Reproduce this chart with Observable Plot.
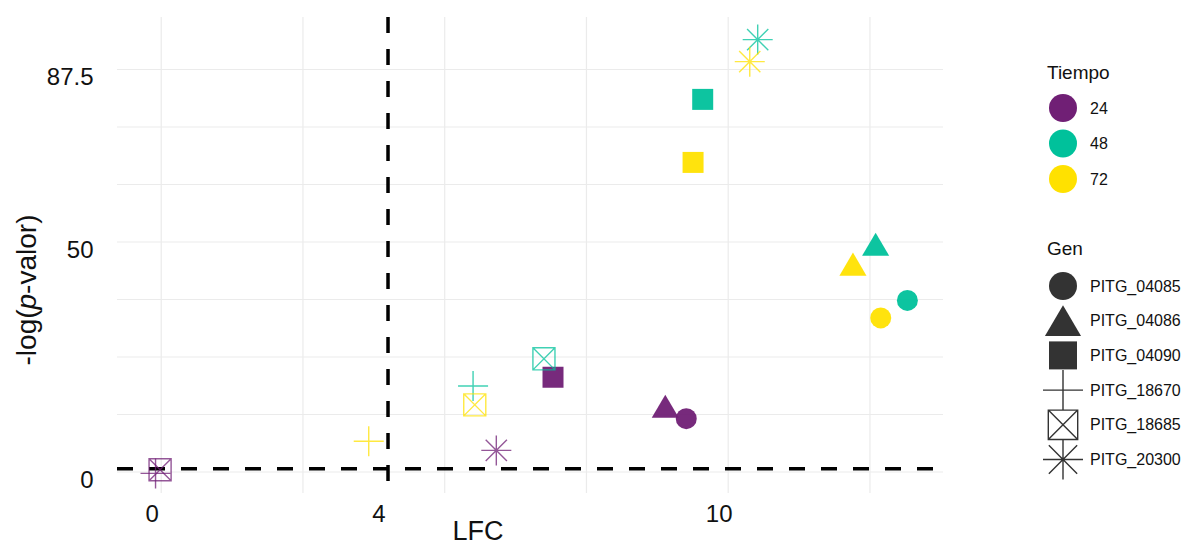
<!DOCTYPE html>
<html><head><meta charset="utf-8">
<script src="https://cdn.jsdelivr.net/npm/d3@7"></script>
<script src="https://cdn.jsdelivr.net/npm/@observablehq/plot@0.6"></script>
<style>
body{margin:0;background:#fff;font-family:"Liberation Sans",Arial,sans-serif;}
#wrap{position:relative;width:1186px;height:548px;overflow:hidden;}
#legend{position:absolute;left:1030px;top:0;}
</style></head><body>
<div id="wrap"><div id="chart"></div><div id="legend"></div></div>
<script>
// ---- data ----
const genes = ["PITG_04085","PITG_04086","PITG_04090","PITG_18670","PITG_18685","PITG_20300"];
const tiempos = ["24","48","72"];
const gen = ["PITG_04085","PITG_04085","PITG_04085","PITG_04086","PITG_04086","PITG_04086",
             "PITG_04090","PITG_04090","PITG_04090","PITG_18670","PITG_18670","PITG_18670",
             "PITG_18685","PITG_18685","PITG_18685","PITG_20300","PITG_20300","PITG_20300"];
const tiempo = ["24","48","72","24","48","72","24","48","72","24","48","72","24","48","72","24","48","72"];
const lfc  = [9.26,13.16,12.69, 8.89,12.6,12.2, 6.91,9.55,9.38, -0.1,5.50,3.66, -0.02,6.75,5.53, 5.91,10.52,10.38];
const logp = [11.6,37.3,33.5, 14.3,49.5,45.2, 20.6,81.0,67.3, -0.3,18.7,6.7, 0.5,24.6,14.6, 4.7,94.0,89.2];
const xTicks = [0,4,10];
const yTicks = [0,50,87.5];
const xGrid = [0,2.5,5,7.5,10,12.5];
const yGrid = [0,12.5,25,37.5,50,62.5,75,87.5];
const lfcCut = 4;
const pCut = 0.7;
const colors = ["#701F75","#00C19B","#FFE100"];

const data = gen.map((g,i)=>({gen:g, tiempo:tiempo[i], lfc:lfc[i], logp:logp[i]}));

// ---- symbols (sized from r) ----
const R = s => Math.sqrt(s/Math.PI);
const symCircle = {draw(c,s){const r=R(s); c.moveTo(r,0); c.arc(0,0,r,0,2*Math.PI);}};
const symTri = {draw(c,s){const r=R(s); c.moveTo(0,-1.1*r); c.lineTo(1.29*r,1.1*r); c.lineTo(-1.29*r,1.1*r); c.closePath();}};
const symSquare = {draw(c,s){const r=R(s); c.rect(-r,-r,2*r,2*r);}};
const symPlus = {draw(c,s){const a=1.43*R(s); c.moveTo(-a,0); c.lineTo(a,0); c.moveTo(0,-a); c.lineTo(0,a);}};
const symSqX = {draw(c,s){const h=1.05*R(s); c.rect(-h,-h,2*h,2*h); c.moveTo(-h,-h); c.lineTo(h,h); c.moveTo(h,-h); c.lineTo(-h,h);}};
const symStar = {draw(c,s){const a=1.43*R(s), d=a*Math.SQRT1_2; c.moveTo(-a,0); c.lineTo(a,0); c.moveTo(0,-a); c.lineTo(0,a); c.moveTo(-d,-d); c.lineTo(d,d); c.moveTo(d,-d); c.lineTo(-d,d);}};
const symbols = [symCircle,symTri,symSquare,symPlus,symSqX,symStar];
const filled = [true,true,true,false,false,false];

const pointMarks = genes.map((g,k)=> filled[k]
  ? Plot.dot(data.filter(d=>d.gen===g), {x:"lfc", y:"logp", symbol:symbols[k], r:10.5, fill:"tiempo", fillOpacity:0.95, stroke:"none"})
  : Plot.dot(data.filter(d=>d.gen===g), {x:"lfc", y:"logp", symbol:symbols[k], r:10.5, stroke:"tiempo", strokeOpacity:0.75, strokeWidth:1.4, fill:"none"}));

const plot = Plot.plot({
  width:1186, height:548,
  marginLeft:117, marginRight:243, marginTop:17, marginBottom:55,
  style:{fontFamily:'"Liberation Sans", Arial, sans-serif', background:"white", color:"#111"},
  x:{domain:[-0.771,13.797]},
  y:{domain:[-4.67,98.8]},
  color:{domain:tiempos, range:colors},
  marks:[
    Plot.ruleX(xGrid, {stroke:"#ebebeb", strokeWidth:1.2}),
    Plot.ruleY(yGrid, {stroke:"#ebebeb", strokeWidth:1.2}),
    Plot.axisX({ticks:xTicks, tickSize:0, tickPadding:11, fontSize:24, dx:-9, label:null}),
    Plot.axisY({ticks:yTicks, tickSize:0, tickPadding:24, fontSize:24, dy:8, label:null, tickFormat:d=>String(d)}),
    Plot.ruleY([pCut], {stroke:"black", strokeWidth:3.5, strokeDasharray:"16,16"}),
    Plot.ruleX([lfcCut], {stroke:"black", strokeWidth:3.5, strokeDasharray:"16,16"}),
    ...pointMarks
  ]
});
document.getElementById("chart").appendChild(plot);

// axis titles
const svg = d3.select(plot);
svg.append("text").attr("x",478).attr("y",540).attr("text-anchor","middle")
  .attr("font-size",27).attr("fill","#111").text("LFC");
const yl = svg.append("text").attr("transform","translate(36,290) rotate(-90)")
  .attr("text-anchor","middle").attr("font-size",28).attr("fill","#111");
yl.append("tspan").text("-log(");
yl.append("tspan").attr("font-style","italic").text("p");
yl.append("tspan").text("-valor)");

// legend
const lg = d3.select("#legend").append("svg").attr("width",156).attr("height",548)
  .style("font-family",'"Liberation Sans", Arial, sans-serif');
lg.append("text").attr("x",17).attr("y",79).attr("font-size",19).attr("fill","#111").text("Tiempo");
tiempos.forEach((t,i)=>{
  const y = 108 + i*35.5;
  lg.append("path").attr("transform",`translate(33,${y})`)
    .attr("d", d3.symbol(symCircle, Math.PI*14*14)()).attr("fill",colors[i]);
  lg.append("text").attr("x",60).attr("y",y).attr("dy","0.35em").attr("font-size",16).attr("fill","#111").text(t);
});
lg.append("text").attr("x",17).attr("y",255).attr("font-size",19).attr("fill","#111").text("Gen");
genes.forEach((g,k)=>{
  const y = 286 + k*34.7;
  const p = lg.append("path").attr("transform",`translate(33,${y})`)
    .attr("d", d3.symbol(symbols[k], Math.PI*14*14)());
  if (filled[k]) p.attr("fill","#333"); else p.attr("fill","none").attr("stroke","#333").attr("stroke-width",1.4);
  lg.append("text").attr("x",60).attr("y",y).attr("dy","0.35em").attr("font-size",16).attr("fill","#111").text(g);
});
</script>
</body></html>
